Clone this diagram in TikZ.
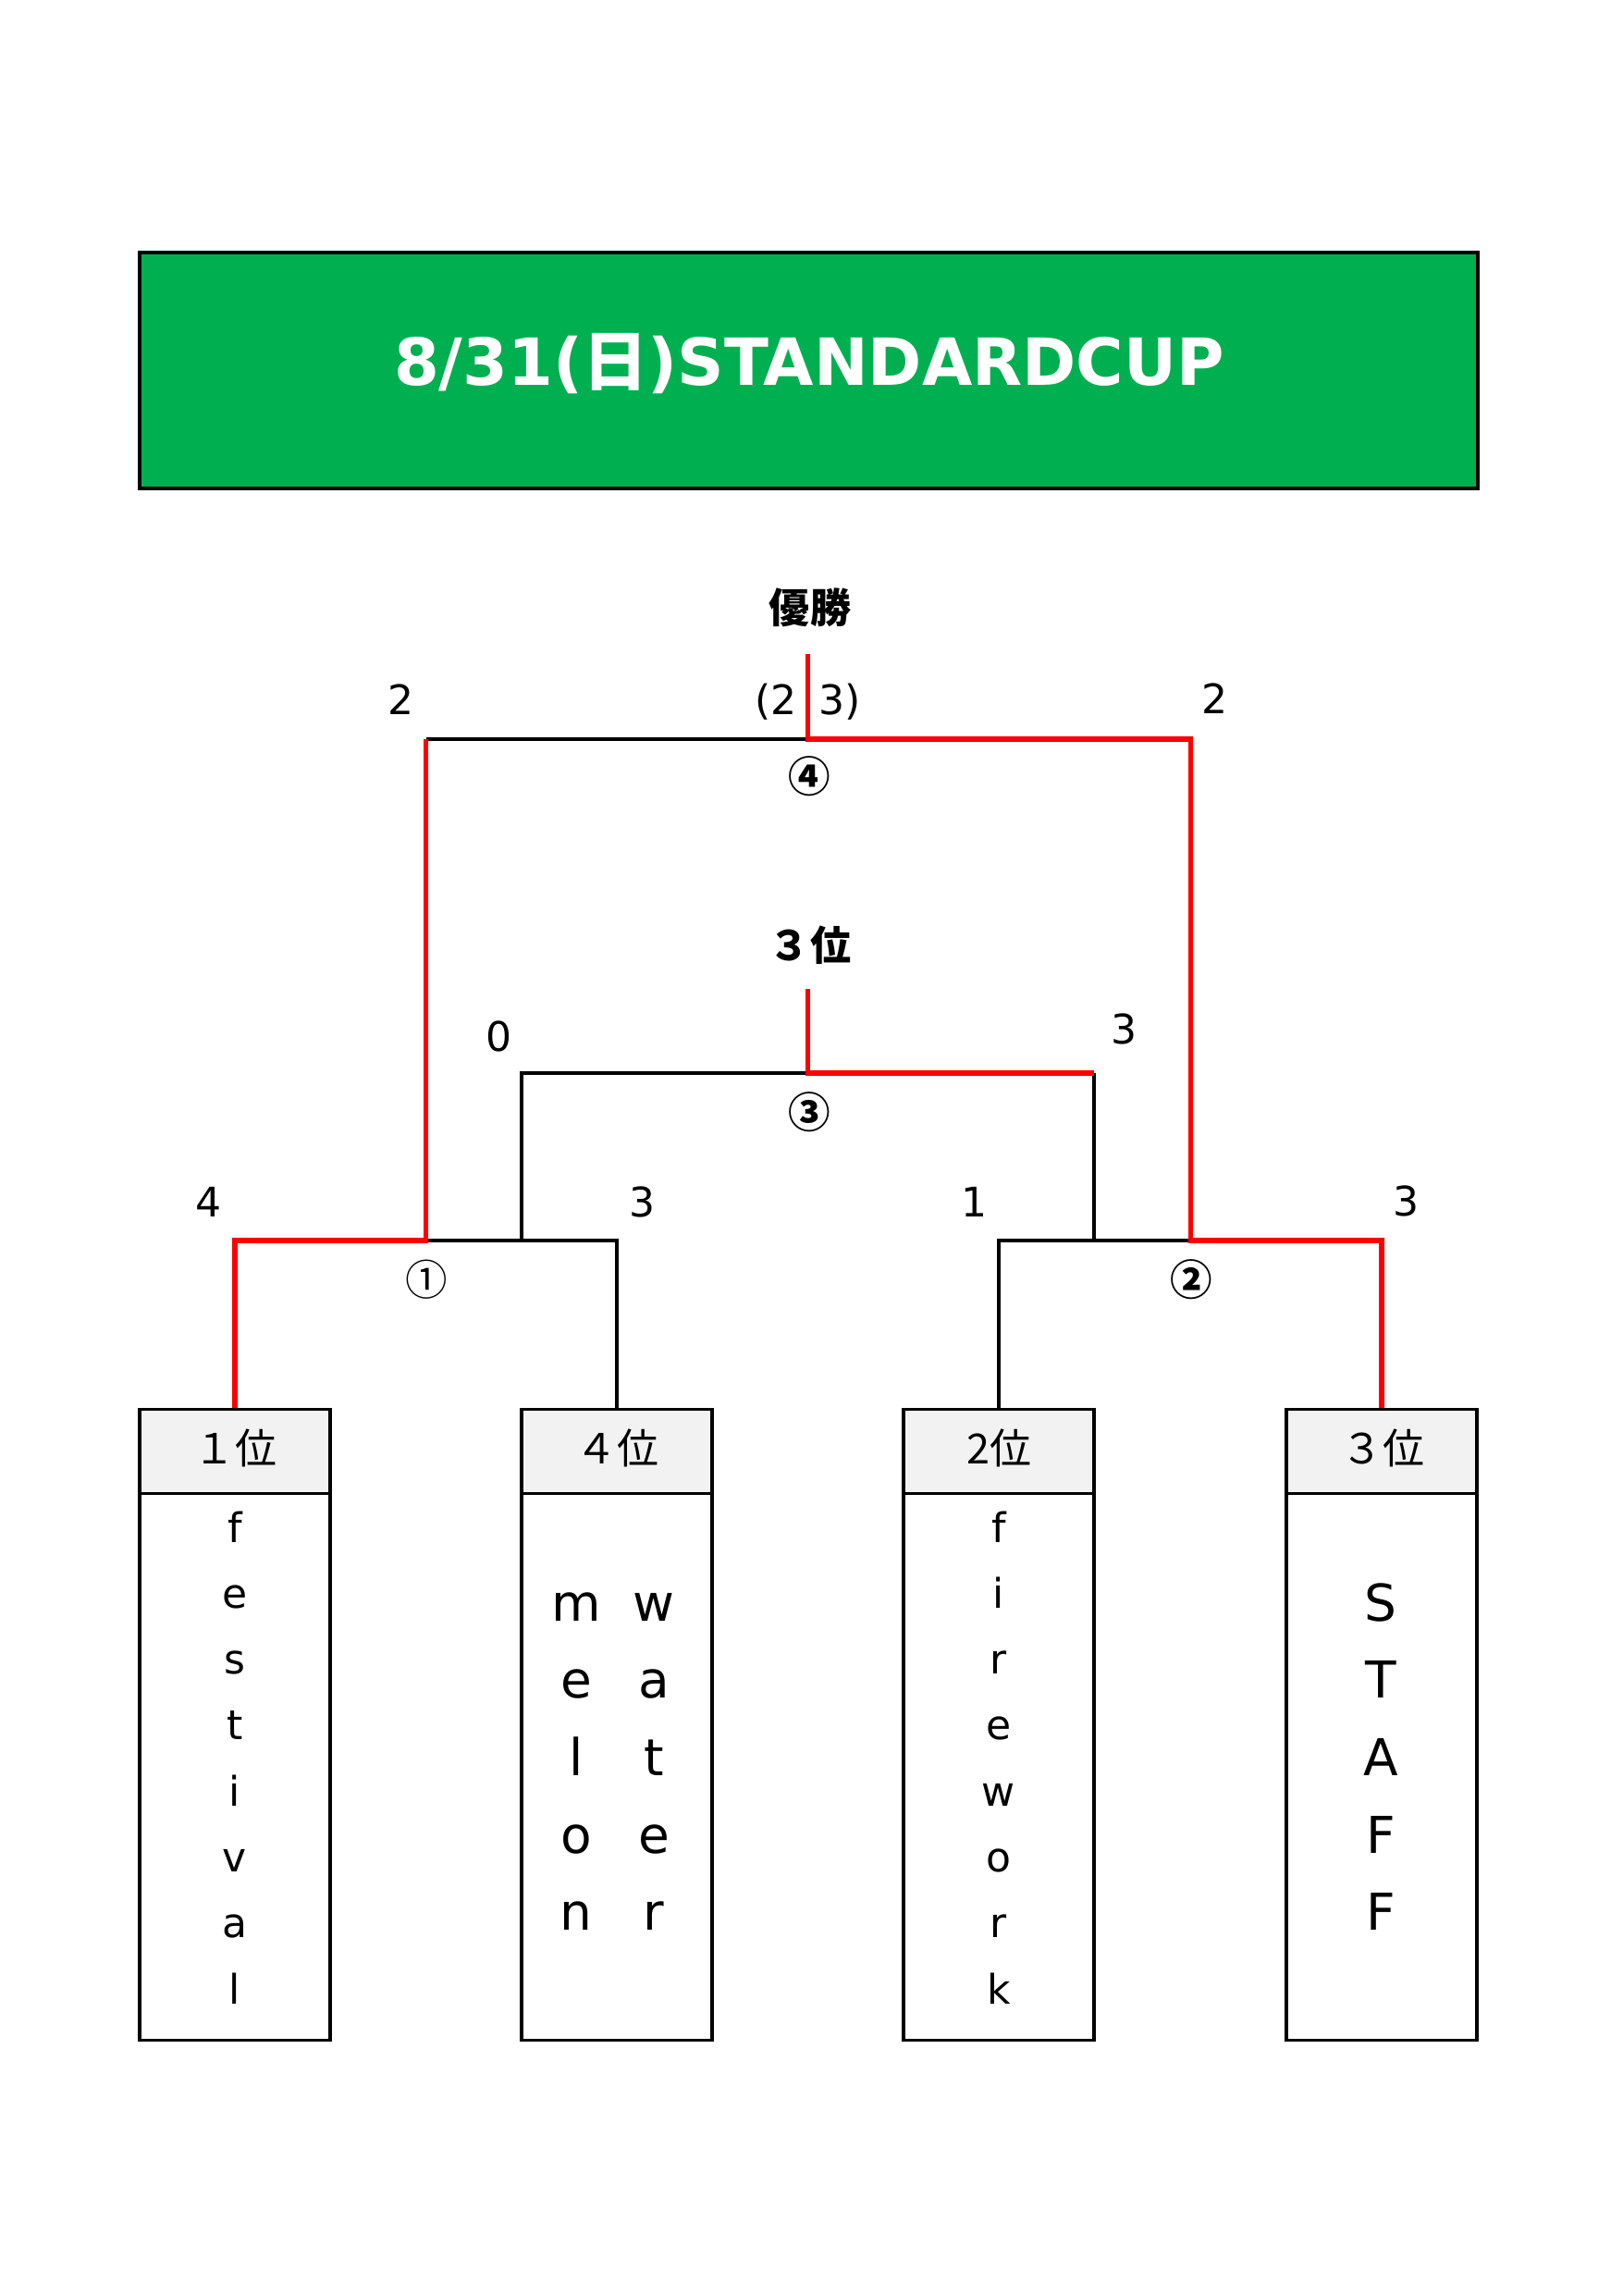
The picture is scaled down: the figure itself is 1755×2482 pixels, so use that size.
\documentclass[tikz,border=0pt]{standalone}
\usepackage{fontspec}
\setmainfont{DejaVu Sans}
\newfontfamily\cjk{Noto Sans CJK JP}
\newcommand\pxl{0.0119658cm}
\definecolor{titlegreen}{HTML}{00B050}
\definecolor{hdrgray}{HTML}{F2F2F2}
\definecolor{winred}{HTML}{FF0000}
\tikzset{
  blk/.style={line width=1.1pt, draw=black},
  win/.style={line width=2pt, draw=winred},
  score/.style={font=\fontsize{15}{18}\selectfont, anchor=base, inner sep=0pt},
  matchno/.style={font=\cjk\fontsize{15.5}{18}\selectfont, inner sep=0pt},
  matchnob/.style={font=\cjk\bfseries\fontsize{15.5}{18}\selectfont, inner sep=0pt},
  hdr/.style={draw, fill=hdrgray, line width=1.1pt, minimum width=206*\pxl, minimum height=91*\pxl, anchor=north, inner sep=0pt},
  bodybox/.style={draw, line width=1.1pt, minimum width=206*\pxl, minimum height=591*\pxl, anchor=north, inner sep=0pt},
  hdrtext/.style={font=\cjk\fontsize{15.3}{18}\selectfont, anchor=base, inner sep=0pt},
  smallch/.style={font=\fontsize{15}{18}\selectfont, anchor=base, inner sep=0pt},
  bigch/.style={font=\fontsize{18.7}{22}\selectfont, anchor=base, inner sep=0pt},
  roundlabel/.style={font=\cjk\bfseries\fontsize{15}{18}\selectfont, inner sep=0pt},
}
\begin{document}
\begin{tikzpicture}[x=0.0119658cm, y=-0.0119658cm]
\useasboundingbox (0,0) rectangle (1755,2482);
\fill[white] (0,0) rectangle (1755,2482);

% title
\node[draw, fill=titlegreen, line width=1.2pt, minimum width=1447*\pxl, minimum height=255*\pxl, inner sep=0pt] (title) at (874.5,400.5) {};
\node[anchor=base, inner sep=0pt, text=white, font=\fontsize{23.9}{29}\selectfont\bfseries] (titletext) at (875,417) {8/31({\cjk\bfseries 日})STANDARDCUP};

% boxes
\node[bodybox] (bd1) at (254,1613) {};
\node[bodybox] (bd2) at (667,1613) {};
\node[bodybox] (bd3) at (1080,1613) {};
\node[bodybox] (bd4) at (1494,1613) {};
\node[hdr] (h1) at (254,1522) {};
\node[hdr] (h2) at (667,1522) {};
\node[hdr] (h3) at (1080,1522) {};
\node[hdr] (h4) at (1494,1522) {};
\node[hdrtext] (ht1) at (254,1582) {１位};
\node[hdrtext] (ht2) at (667,1582) {４位};
\node[hdrtext] (ht3) at (1080,1582) {2位};
\node[hdrtext] (ht4) at (1495,1582) {３位};

% team names
\foreach \ch [count=\i from 0] in {f,e,s,t,i,v,a,l}
  \node[smallch] (fest\i) at (254,{1667+71.3*\i}) {\ch};
\foreach \ch [count=\i from 0] in {f,i,r,e,w,o,r,k}
  \node[smallch] (fire\i) at (1080,{1667+71.3*\i}) {\ch};
\foreach \ch [count=\i from 0] in {m,e,l,o,n}
  \node[bigch] (mel\i) at (623,{1752+83.7*\i}) {\ch};
\foreach \ch [count=\i from 0] in {w,a,t,e,r}
  \node[bigch] (wat\i) at (707,{1752+83.7*\i}) {\ch};
\foreach \ch [count=\i from 0] in {S,T,A,F,F}
  \node[bigch] (staff\i) at (1493,{1752+83.7*\i}) {\ch};

% bracket coordinates
\coordinate (m1) at (460.5,1341);
\coordinate (m2) at (1287.5,1341);
\coordinate (m3) at (873.5,1160);
\coordinate (m4) at (873.5,799);
\coordinate (f4L) at (460.5,799);
\coordinate (f4R) at (1287.5,799);
\coordinate (top4) at (873.5,707);
\coordinate (top3) at (873.5,1069);
\coordinate (t3L) at (564,1160);
\coordinate (t3R) at (1183,1160);
\coordinate (t3Lb) at (564,1341);
\coordinate (t3Rb) at (1183,1341);

% black (losing) lines
\draw[blk] (m1) -| (h2.north);
\draw[blk] (h3.north) |- (m2);
\draw[blk] (t3Lb) -- (t3L) -- (m3);
\draw[blk] (t3R) -- (t3Rb);
\draw[blk] (f4L) -- (m4);

% red (winning) lines
\draw[win] (h1.north) |- (m1) -- (f4L);
\draw[win] (top4) -- (m4) -- (f4R) -- (m2) -| (h4.north);
\draw[win] (top3) -- (m3) -- (t3R);

% round labels
\node[roundlabel] (champ) at (876,657) {優勝};
\node[roundlabel] (third) at (876,1022) {３位};
\node[matchno] (r1) at (461,1383) {①};
\node[matchnob] (r2) at (1288,1383) {②};
\node[matchnob] (r3) at (875,1202) {③};
\node[matchnob] (r4) at (875,839) {④};

% scores
\node[score] (s4L) at (434,772) {2};
\node[score, anchor=base east] (s4a) at (862,772) {(2};
\node[score, anchor=base west] (s4b) at (885,772) {3)};
\node[score] (s4R) at (1313,771) {2};
\node[score] (s3L) at (540,1136) {0};
\node[score] (s3R) at (1215,1128) {3};
\node[score] (s1L) at (226,1315) {4};
\node[score] (s1R) at (695,1315) {3};
\node[score] (s2L) at (1054,1315) {1};
\node[score] (s2R) at (1520,1314) {3};
\end{tikzpicture}
\end{document}
